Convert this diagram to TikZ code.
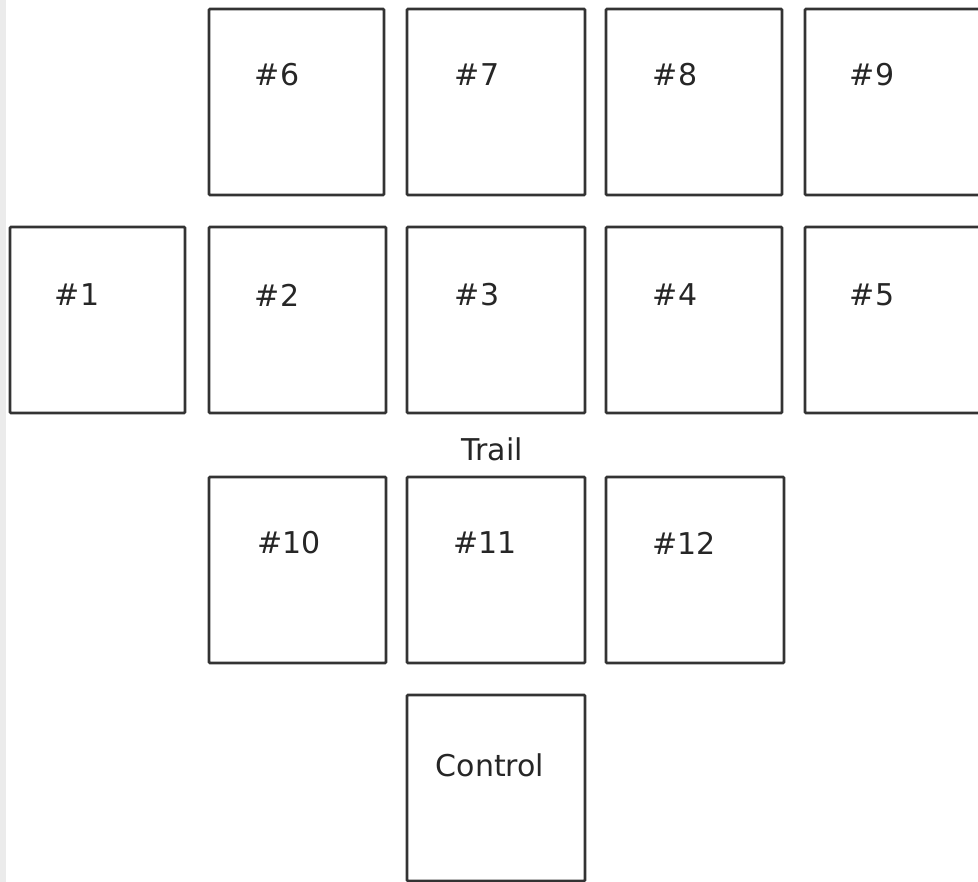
\documentclass[tikz,border=0pt]{standalone}
\usepackage{fontspec}
\setmainfont{DejaVu Sans}
\begin{document}
\begin{tikzpicture}[x=1pt,y=-1pt,
  plot/.style={draw=black!80,line width=2.8pt,rounded corners=1pt},
  lbl/.style={inner sep=0pt,font=\fontsize{30}{35}\selectfont,text=black!85}]
\useasboundingbox (0,0) rectangle (978,882);
\clip (0,0) rectangle (978,882);
\fill[black!8] (0,0) rectangle (6,882);
% row 1
\draw[plot] (209,9) rectangle (384,195) coordinate (p6);
\draw[plot] (407,9) rectangle (585,195) coordinate (p7);
\draw[plot] (606,9) rectangle (782,195) coordinate (p8);
\draw[plot] (805,9) rectangle (984,195) coordinate (p9);
\node[lbl] (t6) at (277,75) {\#6};
\node[lbl] (t7) at (477,75) {\#7};
\node[lbl] (t8) at (675,75) {\#8};
\node[lbl] (t9) at (872,75) {\#9};
% row 2
\draw[plot] (10,227) rectangle (185,413) coordinate (p1);
\draw[plot] (209,227) rectangle (386,413) coordinate (p2);
\draw[plot] (407,227) rectangle (585,413) coordinate (p3);
\draw[plot] (606,227) rectangle (782,413) coordinate (p4);
\draw[plot] (805,227) rectangle (984,413) coordinate (p5);
\node[lbl] (t1) at (77,295) {\#1};
\node[lbl] (t2) at (277,295) {\#2};
\node[lbl] (t3) at (477,295) {\#3};
\node[lbl] (t4) at (675,295) {\#4};
\node[lbl] (t5) at (872,295) {\#5};
\node[lbl] (trail) at (492,449) {Trail};
% row 3
\draw[plot] (209,477) rectangle (386,663) coordinate (p10);
\draw[plot] (407,477) rectangle (585,663) coordinate (p11);
\draw[plot] (606,477) rectangle (784,663) coordinate (p12);
\node[lbl] (t10) at (289,543) {\#10};
\node[lbl] (t11) at (485,543) {\#11};
\node[lbl] (t12) at (684,543) {\#12};
% control
\draw[plot] (407,695) rectangle (585,881) coordinate (pc);
\node[lbl] (tc) at (490,765) {Control};
\end{tikzpicture}
\end{document}
